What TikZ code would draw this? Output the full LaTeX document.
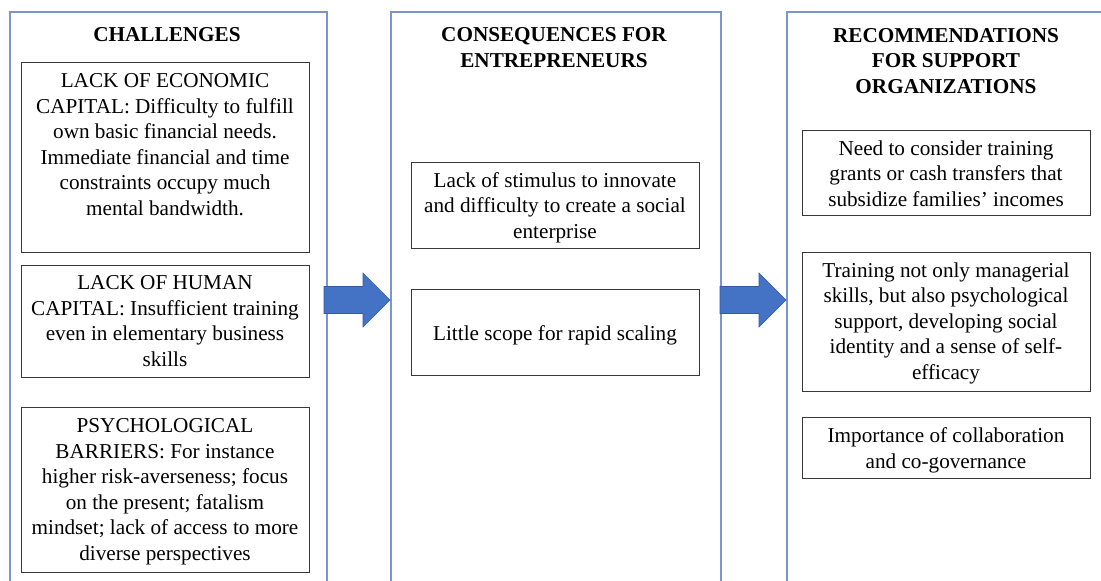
\documentclass[tikz,border=0pt]{standalone}
\usepackage{fontspec}
\setmainfont{Liberation Serif}
\definecolor{panelblue}{RGB}{122,150,204}
\definecolor{boxgray}{RGB}{55,55,55}
\definecolor{arrowfill}{RGB}{68,114,196}
\definecolor{arrowedge}{RGB}{50,90,165}
\begin{document}
\begin{tikzpicture}[x=1pt,y=-1pt,
  panel/.style={draw=panelblue, line width=1.6pt, anchor=north west, inner sep=0pt, minimum height=620pt},
  box/.style={draw=boxgray, line width=1.3pt, anchor=north west, inner sep=0pt, minimum width=288pt},
  txt/.style={align=center, anchor=base, inner sep=0pt, font=\fontsize{21.2}{25.5}\selectfont},
  head/.style={txt, font=\bfseries\fontsize{21.2}{25.5}\selectfont},
  bigarrow/.style={fill=arrowfill, draw=arrowedge, line width=0.6pt}]
\useasboundingbox (0,0) rectangle (1101,581);
\clip (0,0) rectangle (1101,581);
\fill[white] (0,0) rectangle (1101,581);

% panels
\node[panel, minimum width=317pt] (p1) at (9,11) {};
\node[panel, minimum width=330pt] (p2) at (390,11) {};
\node[panel, minimum width=340pt] (p3) at (786,11) {};

% headings (anchored at the baseline of their last line)
\node[head] (h1) at (167,41) {CHALLENGES};
\node[head] (h2) at (554,67) {CONSEQUENCES FOR\\ENTREPRENEURS};
\node[head] (h3) at (946,93) {RECOMMENDATIONS\\FOR SUPPORT\\ORGANIZATIONS};

% panel 1 boxes
\node[box, minimum height=190pt] (b11) at (21,62) {};
\node[box, minimum height=112pt] (b12) at (21,265) {};
\node[box, minimum height=165pt] (b13) at (21,407) {};
\node[txt] (t11) at (165,215) {LACK OF ECONOMIC\\CAPITAL: Difficulty to fulfill\\own basic financial needs.\\Immediate financial and time\\constraints occupy much\\mental bandwidth.};
\node[txt] (t12) at (165,366) {LACK OF HUMAN\\CAPITAL: Insufficient training\\even in elementary business\\skills};
\node[txt] (t13) at (165,560) {PSYCHOLOGICAL\\BARRIERS: For instance\\higher risk-averseness; focus\\on the present; fatalism\\mindset; lack of access to more\\diverse perspectives};

% panel 2 boxes
\node[box, minimum height=86pt] (b21) at (411,162) {};
\node[box, minimum height=86pt] (b22) at (411,289) {};
\node[txt] (t21) at (555,238) {Lack of stimulus to innovate\\and difficulty to create a social\\enterprise};
\node[txt] (t22) at (555,340) {Little scope for rapid scaling};

% panel 3 boxes
\node[box, minimum height=85pt] (b31) at (802,130) {};
\node[box, minimum height=139pt] (b32) at (802,252) {};
\node[box, minimum height=61pt] (b33) at (802,417) {};
\node[txt] (t31) at (946,206) {Need to consider training\\grants or cash transfers that\\subsidize families’ incomes};
\node[txt] (t32) at (946,379) {Training not only managerial\\skills, but also psychological\\support, developing social\\identity and a sense of self-\\efficacy};
\node[txt] (t33) at (946,468) {Importance of collaboration\\and co-governance};

% block arrows
\draw[bigarrow] (324,286.5) -- (363,286.5) -- (363,273) -- (390,300) -- (363,327) -- (363,313.5) -- (324,313.5) -- cycle;
\draw[bigarrow] (720,286.5) -- (759,286.5) -- (759,273) -- (786,300) -- (759,327) -- (759,313.5) -- (720,313.5) -- cycle;
\end{tikzpicture}
\end{document}
